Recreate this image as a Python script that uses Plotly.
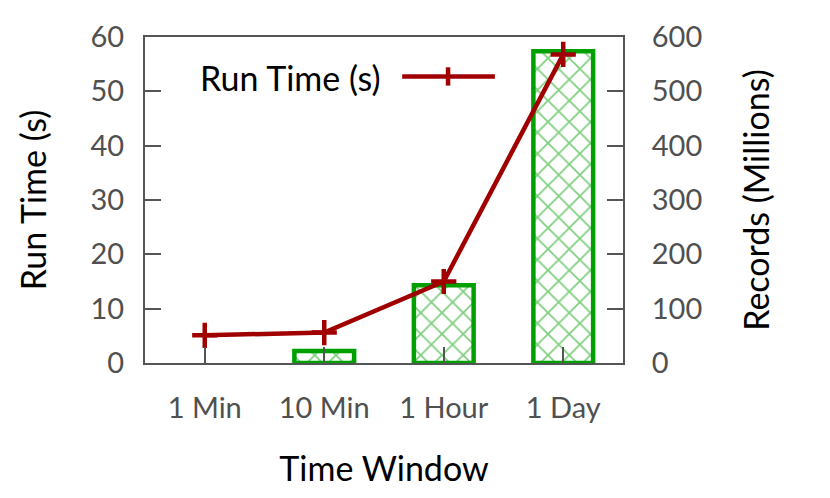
import plotly.graph_objects as go

windows = ["1 Min", "10 Min", "1 Hour", "1 Day"]
run_time = [5.1, 5.6, 15.0, 56.8]          # seconds
records = [0, 22, 143, 574]                # millions

FONT = "Lato"
GRAY = "#555555"
RED = "#a00000"
GREEN = "#00a000"

fig = go.Figure()

# Records as hatched bars (right axis); the empty 1 Min bar gets no outline
fig.add_trace(
    go.Bar(
        x=windows,
        y=records,
        width=0.5,
        yaxis="y",
        marker=dict(
            color="white",
            line=dict(color=GREEN, width=[0, 4.5, 4.5, 4.5]),
            pattern=dict(shape="x", fgcolor=GREEN, bgcolor="white", size=15, solidity=0.22),
        ),
        showlegend=False,
    )
)

# Run time line (left axis), drawn above bars
fig.add_trace(
    go.Scatter(
        x=windows,
        y=run_time,
        yaxis="y2",
        mode="lines+markers",
        line=dict(color=RED, width=4.5),
        marker=dict(symbol="cross-thin", size=18, line=dict(color=RED, width=4.5)),
        showlegend=False,
    )
)

# gnuplot-style key: text on the left, sample to the right
fig.add_annotation(
    text="Run Time (s)", xref="paper", yref="paper", x=0.496, y=0.877,
    xanchor="right", yanchor="middle", showarrow=False,
    font=dict(family=FONT, size=34, color="black"),
)
fig.add_shape(type="line", xref="paper", yref="paper", x0=0.538, x1=0.732, y0=0.879, y1=0.879,
              line=dict(color=RED, width=4.5))
fig.add_shape(type="line", xref="paper", yref="paper", x0=0.634, x1=0.634, y0=0.851, y1=0.907,
              line=dict(color=RED, width=4.5))

fig.update_layout(
    width=830,
    height=498,
    margin=dict(l=137, r=215, t=29, b=143),
    plot_bgcolor="white",
    paper_bgcolor="white",
    font=dict(family=FONT, size=29, color="#505050"),
    xaxis=dict(
        range=[-0.5, 3.5], automargin=False,
        showline=True, linecolor=GRAY, linewidth=2, mirror=True,
        ticks="inside", ticklen=16, tickwidth=2, tickcolor=GRAY,
        showgrid=False,
        title=dict(text="Time Window", font=dict(size=34, color="black"), standoff=34),
        ticklabelstandoff=18,
    ),
    yaxis=dict(
        side="right", automargin=False,
        range=[0, 600], dtick=100,
        showline=True, linecolor=GRAY, linewidth=2,
        ticks="inside", ticklen=16, tickwidth=2, tickcolor=GRAY,
        showgrid=False, zeroline=False,
        title=dict(text="Records (Millions)", font=dict(size=34, color="black"), standoff=44),
        ticklabelstandoff=21,
    ),
    yaxis2=dict(
        side="left", overlaying="y", automargin=False,
        range=[0, 60], dtick=10,
        showline=True, linecolor=GRAY, linewidth=2,
        ticks="inside", ticklen=16, tickwidth=2, tickcolor=GRAY,
        showgrid=False, zeroline=False,
        title=dict(text="Run Time (s)", font=dict(size=34, color="black"), standoff=34),
        ticklabelstandoff=13,
    ),
)

fig.write_html("out.html")
